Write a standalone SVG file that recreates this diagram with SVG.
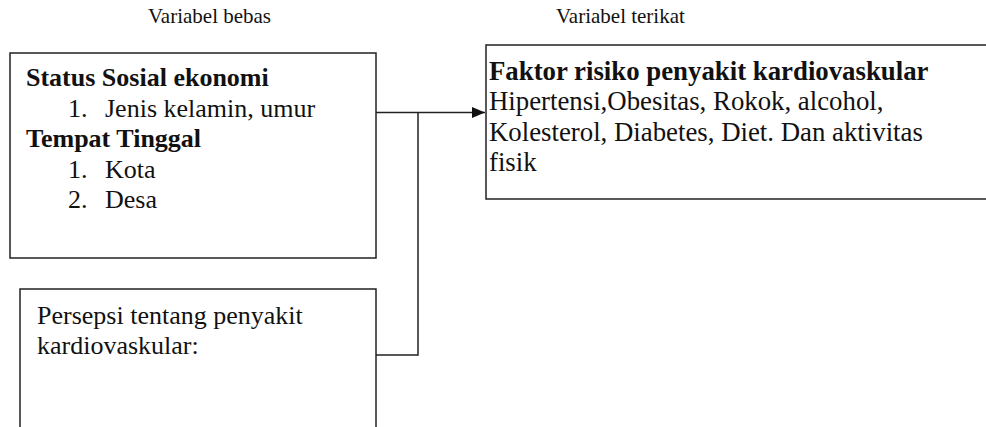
<svg xmlns="http://www.w3.org/2000/svg" width="986" height="427" viewBox="0 0 986 427">
<style>
.box{fill:#fff;stroke:#222;stroke-width:1.5}
.t{font-family:"Liberation Serif","Times New Roman",serif;font-size:26px;fill:#111}
.r{font-size:26.8px}
.b{font-weight:bold}
.cap{font-family:"Liberation Serif","Times New Roman",serif;font-size:21px;fill:#111}
.ln{fill:none;stroke:#222;stroke-width:1.5}
</style>
<defs>
<marker id="arr" markerWidth="13" markerHeight="11" refX="13" refY="5.5" orient="auto" markerUnits="userSpaceOnUse">
<path d="M0,0 L13,5.5 L0,11 Z" fill="#111"/>
</marker>
</defs>
<text class="cap" x="148" y="23">Variabel bebas</text>
<text class="cap" x="556" y="23">Variabel terikat</text>
<g id="node-ses">
<rect class="box" x="10" y="53" width="366" height="205"/>
<text class="t b" x="26" y="86">Status Sosial ekonomi</text>
<text class="t" x="68" y="117">1.</text><text class="t" x="105" y="117">Jenis kelamin, umur</text>
<text class="t b" x="26" y="147">Tempat Tinggal</text>
<text class="t" x="68" y="178">1.</text><text class="t" x="105" y="178">Kota</text>
<text class="t" x="68" y="208">2.</text><text class="t" x="105" y="208">Desa</text>
</g>
<g id="node-persepsi">
<rect class="box" x="20" y="289" width="356" height="150"/>
<text class="t" x="37" y="324">Persepsi tentang penyakit</text>
<text class="t" x="37" y="354">kardiovaskular:</text>
</g>
<g id="node-faktor">
<rect class="box" x="486" y="45" width="510" height="154"/>
<text class="t r b" x="489" y="80">Faktor risiko penyakit kardiovaskular</text>
<text class="t r" x="489" y="110">Hipertensi,Obesitas, Rokok, alcohol,</text>
<text class="t r" x="489" y="141">Kolesterol, Diabetes, Diet. Dan aktivitas</text>
<text class="t r" x="489" y="171">fisik</text>
</g>
<g id="connectors">
<path class="ln" d="M376,112.5 H485" marker-end="url(#arr)"/>
<path class="ln" d="M376,355 H418 V112.5"/>
</g>
</svg>
